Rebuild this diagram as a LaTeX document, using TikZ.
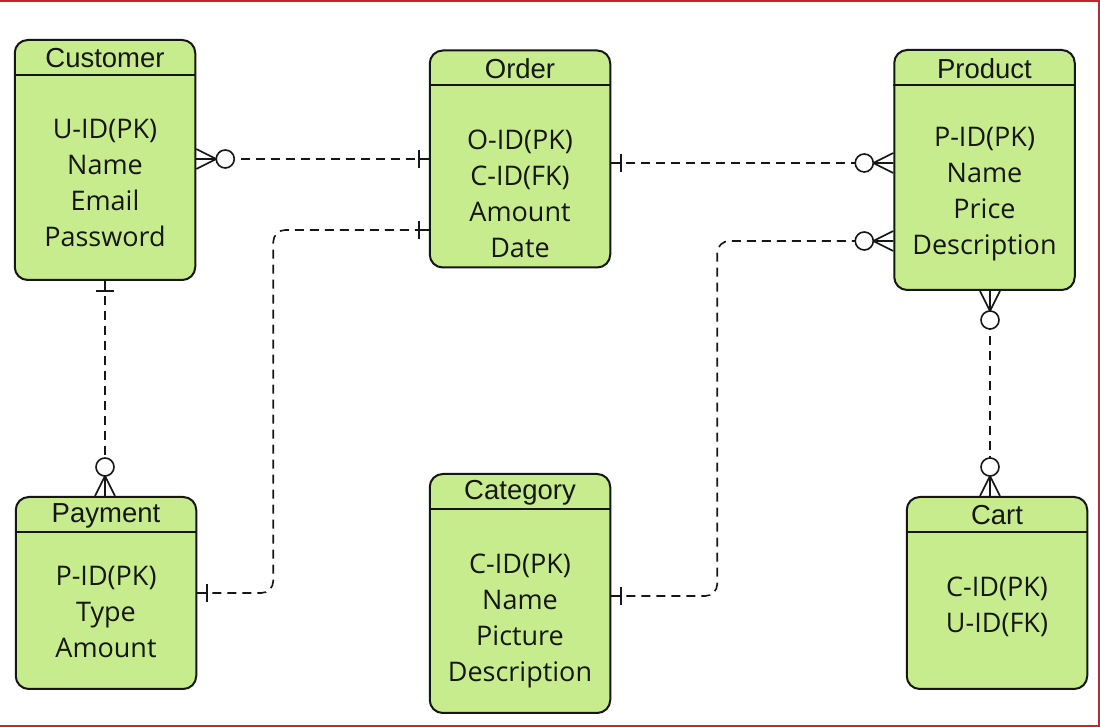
\documentclass[tikz,border=0pt]{standalone}
\usepackage{fontspec}
\setmainfont{Open Sans}
\newfontfamily\titlefont{Liberation Sans}
\usepackage{tikz}
\usetikzlibrary{positioning,calc}
\definecolor{entc}{HTML}{C6EC8E}
\definecolor{linec}{HTML}{161616}
\definecolor{framec}{HTML}{C4262E}
\tikzset{
  ent/.style={draw=linec,line width=2pt,fill=entc,rounded corners=13pt,minimum width=180.5pt,inner sep=0pt},
  hline/.style={draw=linec,line width=2pt},
  ttl/.style={font=\titlefont\fontsize{27.5}{30}\selectfont,text=linec,inner sep=0pt},
  attr/.style={font=\fontsize{27}{36}\selectfont,text=linec,align=center,inner sep=0pt},
  rel/.style={draw=linec,line width=1.6pt,dash pattern=on 9pt off 6pt},
  relend/.style={draw=linec,line width=1.6pt,solid},
  zmany/.pic={\draw[relend] (0,10) -- (20,0) -- (0,-10) (0,0) -- (20,0);
              \draw[relend,fill=white] (29,0) circle (9);},
  one/.pic={\draw[relend] (0,0) -- (10,0) (10,-9) -- (10,9);},
  frame/.style={draw=framec,line width=1.5pt},
}
\begin{document}
\begin{tikzpicture}[x=1pt,y=1pt]
  \useasboundingbox (0,0) rectangle (1100,727);
  \fill[white] (0,0) rectangle (1100,727);
  \draw[frame] (0,726.2) -- (1099.2,726.2) -- (1099.2,0.8) -- (0,0.8);
  % 实体
  \foreach \n/\t/\x/\y/\h in {cust/Customer/105/567/240, order/Order/520/568/217,
      prod/Product/984.5/557/240, pay/Payment/106/134/192,
      cat/Category/520/133.5/239, cart/Cart/997/134/192} {
    \node[ent,minimum height=\h] (\n) at (\x,\y) {};
    \draw[hline] ([yshift=-36]\n.north west) -- ([yshift=-36]\n.north east);
    \node[ttl] (\n t) at ([yshift=-19.5]\n.north) {\t};
  }
  \node[attr] (custa) at ([yshift=-144]cust.north) {U-ID(PK)\\Name\\Email\\Password};
  \node[attr] (ordera) at ([yshift=-144]order.north) {O-ID(PK)\\C-ID(FK)\\Amount\\Date};
  \node[attr] (proda) at ([yshift=-145]prod.north) {P-ID(PK)\\Name\\Price\\Description};
  \node[attr] (paya) at ([yshift=-116]pay.north) {P-ID(PK)\\Type\\Amount};
  \node[attr] (cata) at ([yshift=-147.5]cat.north) {C-ID(PK)\\Name\\Picture\\Description};
  \node[attr] (carta) at ([yshift=-111]cart.north) {C-ID(PK)\\U-ID(FK)};
  % 关系
  \coordinate (po) at ([yshift=-71]order.west);
  \coordinate (op) at ([yshift=-4]order.east);
  \coordinate (cp) at ([yshift=-2.5]cat.east);
  \coordinate (pc) at ([yshift=-71]prod.west);
  \coordinate (pb) at ([xshift=5.5]prod.south);
  \draw[rel] (order.west -| cust.east) -- (order.west);
  \draw[rel,rounded corners=12pt] (pay.east) -- ++(76,0) |- (po);
  \draw[rel] (cust.south) -- (cust.south |- pay.north);
  \draw[rel] (op) -- (op -| prod.west);
  \draw[rel,rounded corners=12pt] (cp) -- ++(106,0) |- (pc);
  \draw[rel] (pb) -- (pb |- cart.north);
  \pic at (order.west -| cust.east) {zmany};
  \pic[rotate=180] at (order.west) {one};
  \pic at (pay.east) {one};
  \pic[rotate=180] at (po) {one};
  \pic[rotate=-90] at (cust.south) {one};
  \pic[rotate=90] at (cust.south |- pay.north) {zmany};
  \pic at (op) {one};
  \pic[rotate=180] at (op -| prod.west) {zmany};
  \pic at (cp) {one};
  \pic[rotate=180] at (pc) {zmany};
  \pic[rotate=-90] at (pb) {zmany};
  \pic[rotate=90] at (pb |- cart.north) {zmany};
\end{tikzpicture}
\end{document}
